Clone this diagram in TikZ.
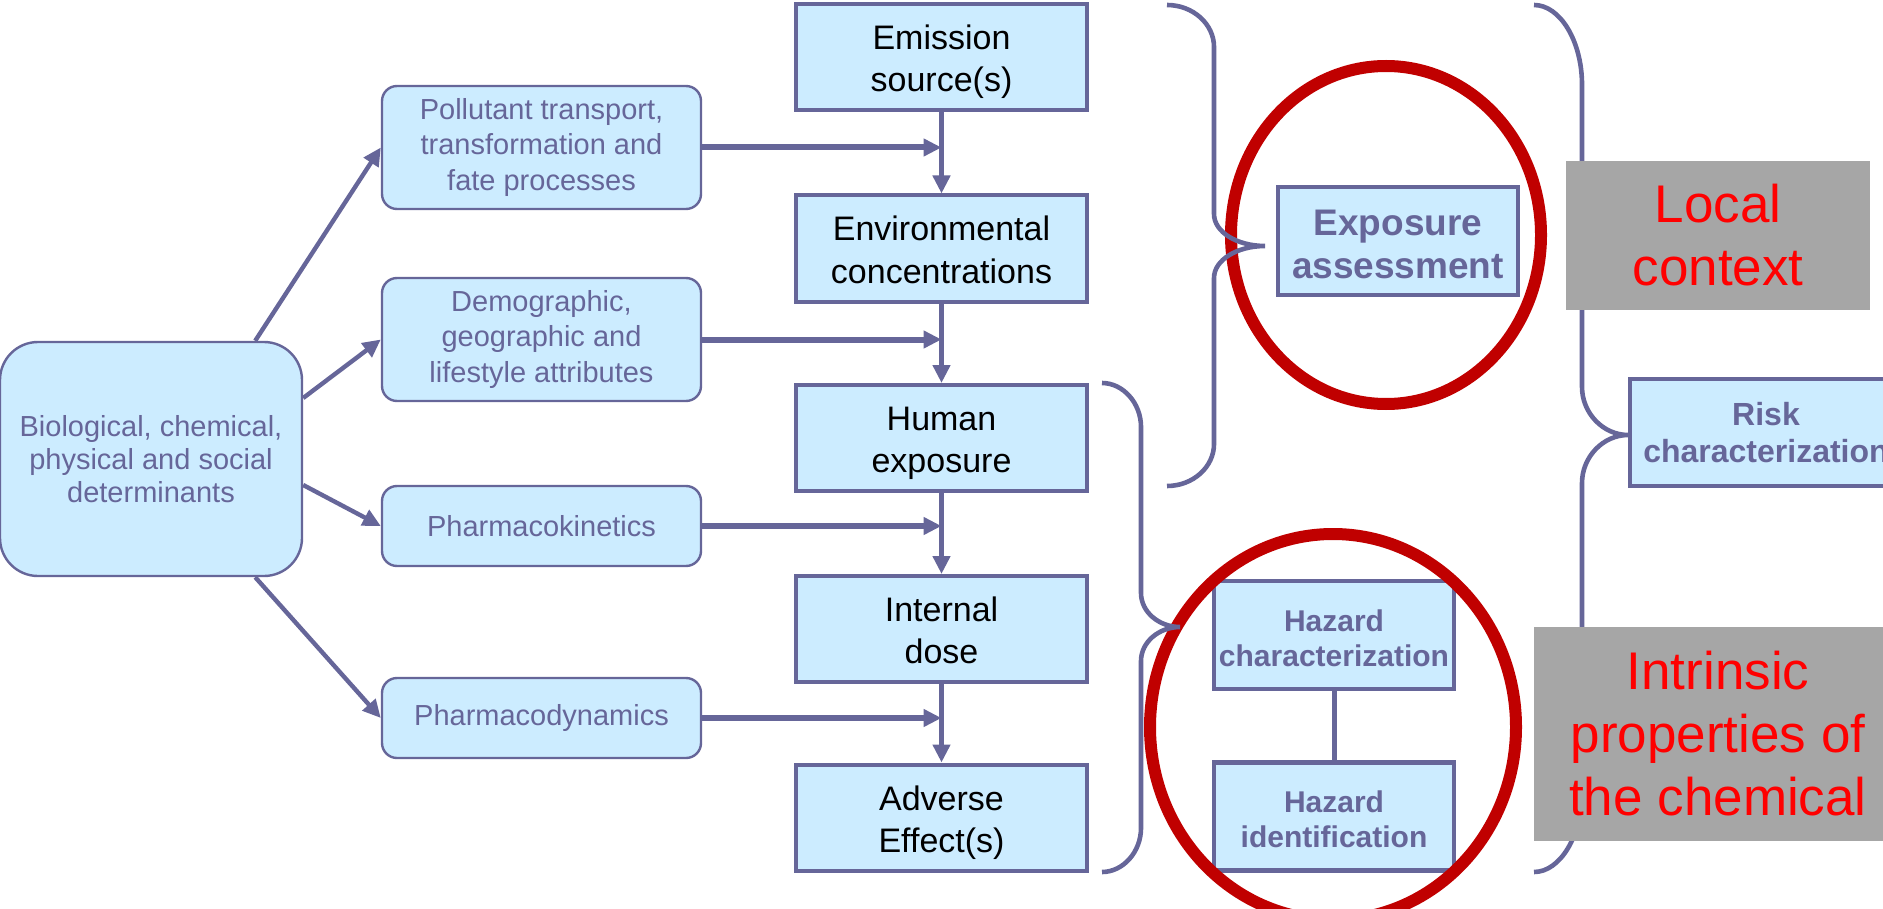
\documentclass[tikz,border=0pt]{standalone}
\usepackage{fontspec}
\setmainfont{Liberation Sans}
\usetikzlibrary{arrows.meta}
\definecolor{linepurple}{HTML}{666699}
\definecolor{boxfill}{HTML}{CCECFF}
\definecolor{ringred}{HTML}{C00000}
\definecolor{contextgray}{HTML}{A6A6A6}
\definecolor{contextred}{HTML}{FF0000}

\begin{document}
\begin{tikzpicture}[x=0.5pt,y=-0.5pt,
  chainbox/.style={draw=linepurple,line width=2pt,fill=boxfill,minimum width=145.5pt,
    minimum height=53pt,inner sep=0pt,align=center,text height=34.5pt,text depth=0pt,
    font=\fontsize{17}{21}\selectfont},
  factorbox/.style={draw=linepurple,line width=1.2pt,fill=boxfill,rounded corners=7.5pt,
    minimum width=159.5pt,inner sep=0pt,align=center,text=linepurple,
    font=\fontsize{14.5}{17.7}\selectfont},
  stagebox/.style={draw=linepurple,line width=2.2pt,fill=boxfill,minimum width=120pt,
    minimum height=54pt,inner sep=0pt,align=center,text=linepurple},
  contextbox/.style={fill=contextgray,text=contextred,inner sep=0pt,align=center,
    font=\fontsize{26.5}{31.5}\selectfont},
  arr/.style={draw=linepurple,line width=2.5pt,-{Triangle[length=9pt,width=8.5pt]}},
  ring/.style={draw=ringred,line width=6pt},
  bracket/.style={draw=linepurple,line width=2.3pt}]
  \useasboundingbox (0,0) rectangle (1883,909);
  \clip (0,0) rectangle (1883,909);

  % exposure chain
  \node[chainbox] (emis) at (941.5,57.5) {Emission\\source(s)};
  \node[chainbox] (env) at (941.5,248.5) {Environmental\\concentrations};
  \node[chainbox] (hum) at (941.5,438) {Human\\exposure};
  \node[chainbox] (intd) at (941.5,629) {Internal\\dose};
  \node[chainbox] (adv) at (941.5,817.5) {Adverse\\Effect(s)};
  \draw[arr] (emis) -- (env);
  \draw[arr] (env) -- (hum);
  \draw[arr] (hum) -- (intd);
  \draw[arr] (intd) -- (adv);

  % modifying factors
  \node[factorbox,minimum height=61.5pt] (poll) at (541.5,147.5) {Pollutant transport,\\transformation and\\fate processes};
  \node[factorbox,minimum height=61.5pt] (demo) at (541.5,339.5) {Demographic,\\geographic and\\lifestyle attributes};
  \node[factorbox,minimum height=40pt] (pk) at (541.5,526) {Pharmacokinetics};
  \node[factorbox,minimum height=40pt] (pd) at (541.5,718) {Pharmacodynamics};
  \draw[arr,line width=3pt] (poll.east) -- (poll.east -| emis.south);
  \draw[arr,line width=3pt] (demo.east) -- (demo.east -| emis.south);
  \draw[arr,line width=3pt] (pk.east) -- (pk.east -| emis.south);
  \draw[arr,line width=3pt] (pd.east) -- (pd.east -| emis.south);

  \node[factorbox,rounded corners=19pt,minimum width=151pt,minimum height=117pt,
    font=\fontsize{14.5}{16.4}\selectfont] (bio) at (151,459)
    {Biological, chemical,\\physical and social\\determinants};
  \draw[arr,line width=2.2pt] ([xshift=-24pt]bio.north east) -- (poll.west);
  \draw[arr,line width=2.2pt] ([yshift=30.5pt]bio.east) -- (demo.west);
  \draw[arr,line width=2.2pt] ([yshift=-13pt]bio.east) -- (pk.west);
  \draw[arr,line width=2.2pt] ([xshift=-24pt]bio.south east) -- (pd.west);

  % assessment steps
  \node[stagebox,text height=37.1pt,text depth=0pt,
    font=\bfseries\fontsize{18.5}{21.5}\selectfont] (expo) at (1398,241) {Exposure\\assessment};
  \node[stagebox,text height=31.4pt,text depth=0pt,
    font=\bfseries\fontsize{15}{17.5}\selectfont] (hchar) at (1334,635) {Hazard\\characterization};
  \node[stagebox,text height=31.4pt,text depth=0pt,
    font=\bfseries\fontsize{15}{17.5}\selectfont] (hid) at (1334,816.5) {Hazard\\identification};
  \draw[linepurple,line width=2.5pt] (hchar) -- (hid);
  \node[stagebox,minimum width=136pt,minimum height=53.5pt,
    font=\bfseries\fontsize{16}{18.5}\selectfont] (risk) at (1766,432.5) {Risk\\characterization};

  \draw[ring] (1386,235) ellipse [x radius=77.5pt,y radius=84.5pt];
  \draw[ring] (1333,727) ellipse [x radius=91.5pt,y radius=96.5pt];

  % braces
  \draw[bracket] (1167,5) .. controls (1193,5) and (1214,24) .. (1214,47)
    -- (1214,214) .. controls (1214,232) and (1237,246) .. (1265,246)
    .. controls (1237,246) and (1214,260) .. (1214,278)
    -- (1214,444) .. controls (1214,467) and (1193,486) .. (1167,486);
  \draw[bracket] (1102,383) .. controls (1123,383) and (1141,403) .. (1141,427)
    -- (1141,593) .. controls (1141,612) and (1159,627) .. (1180,627)
    .. controls (1159,627) and (1141,642) .. (1141,661)
    -- (1141,828) .. controls (1141,852) and (1123,872) .. (1102,872);
  \draw[bracket] (1534,5) .. controls (1560,5) and (1582,41) .. (1582,85)
    -- (1582,387) .. controls (1582,413) and (1603,435) .. (1628,435)
    .. controls (1603,435) and (1582,457) .. (1582,483)
    -- (1582,792) .. controls (1582,836) and (1560,872) .. (1534,872);

  % context labels
  \node[contextbox,minimum width=152pt,minimum height=74.5pt] (local) at (1718,235.5) {Local\\context};
  \node[contextbox,minimum width=184pt,minimum height=107pt] (intr) at (1718,734) {Intrinsic\\properties of\\the chemical};
\end{tikzpicture}
\end{document}
